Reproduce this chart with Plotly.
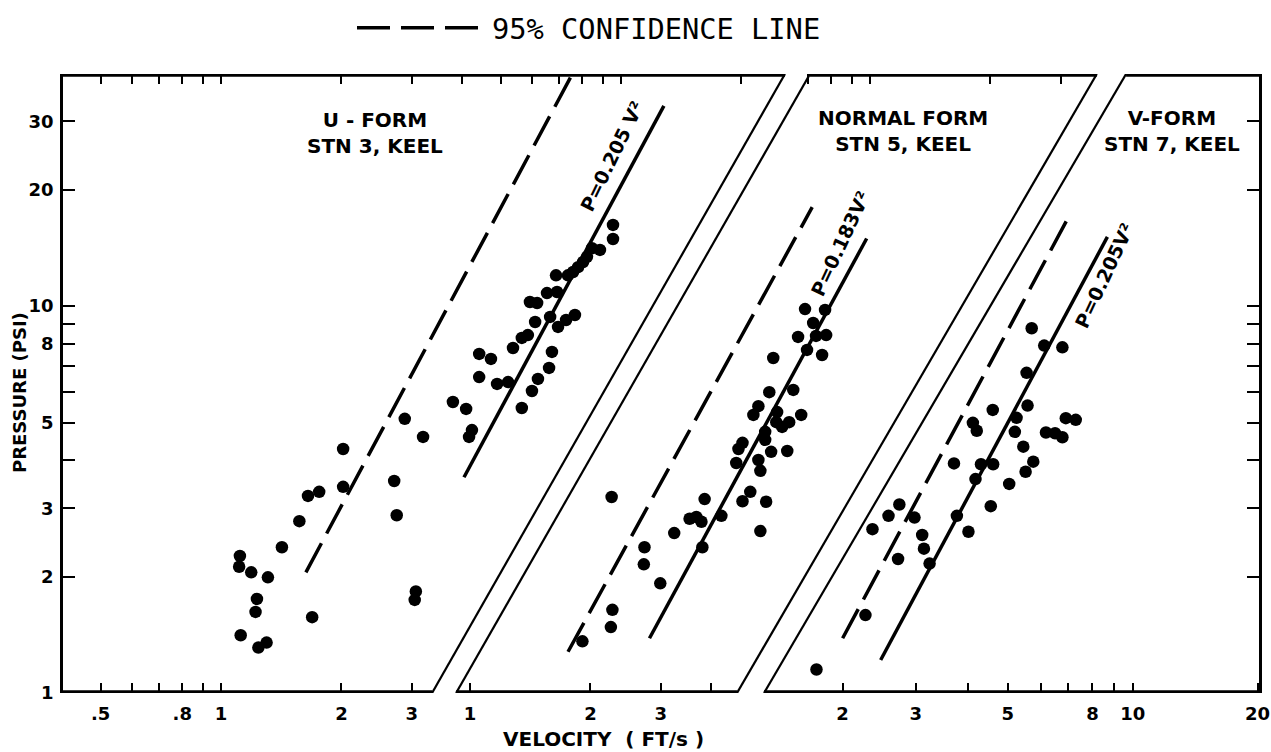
import plotly.graph_objects as go

# ---------------- data ----------------
# U-form, station 3, keel  (velocity ft/s, pressure psi)
u_velocity = [2.88, 3.20, 2.02, 2.02, 2.71, 1.76, 1.65, 2.75, 1.57, 1.42, 1.115, 1.11, 1.19, 1.31,
              1.23, 1.22, 1.69, 3.07, 3.05, 1.12, 1.30, 1.24,
              9.55, 9.55, 8.86, 8.46, 8.22, 8.04, 7.81, 7.59, 7.37, 6.88, 6.53, 6.92, 5.92, 6.17,
              7.67, 7.29, 6.65, 6.96, 6.10, 5.85, 5.65, 5.37, 6.72, 4.42, 4.73, 6.61, 4.42, 4.90,
              5.22, 6.20, 5.99, 5.65, 3.80, 4.10, 4.24, 4.17]
u_pressure = [5.11, 4.59, 4.27, 3.41, 3.53, 3.31, 3.23, 2.88, 2.78, 2.38, 2.26, 2.12, 2.05, 1.99,
              1.75, 1.62, 1.57, 1.83, 1.74, 1.41, 1.35, 1.31,
              16.2, 14.9, 13.96, 14.1, 13.4, 12.99, 12.6, 12.24, 12.0, 12.0, 10.8, 10.87, 10.24, 10.18,
              9.48, 9.20, 9.37, 8.83, 9.09, 8.41, 8.27, 7.79, 7.61, 7.52, 7.30, 6.92, 6.55, 6.29,
              6.36, 6.48, 6.03, 5.45, 5.65, 5.42, 4.78, 4.59]

# Normal form, station 5, keel
n_velocity = [6.88, 7.72, 7.21, 6.61, 7.33, 7.77, 6.96, 7.59, 5.73, 5.60, 6.43, 5.26, 5.11, 5.86,
              6.73, 5.83, 6.03, 6.28, 5.47, 5.47, 4.80, 4.69, 5.66, 6.21, 4.63, 5.26, 5.32, 5.02,
              4.80, 5.50, 3.86, 4.25, 3.54, 3.68, 3.79, 3.24, 5.32, 3.81, 2.26, 2.73, 2.72, 2.99,
              2.27, 2.25, 1.91]
n_pressure = [9.82, 9.77, 9.04, 8.32, 8.37, 8.41, 7.70, 7.47, 7.34, 5.99, 6.07, 5.51, 5.23, 5.32,
              5.23, 5.01, 4.87, 5.01, 4.73, 4.51, 4.43, 4.27, 4.20, 4.22, 3.93, 4.00, 3.75, 3.31,
              3.13, 3.12, 3.17, 2.87, 2.82, 2.85, 2.77, 2.59, 2.62, 2.38, 3.21, 2.38, 2.15, 1.92,
              1.64, 1.48, 1.36]

# V-form, station 7, keel
v_velocity = [5.71, 6.12, 6.77, 5.55, 4.60, 5.58, 5.25, 4.12, 4.21, 5.20, 5.45, 6.18, 6.50, 6.77,
              6.90, 7.29, 5.76, 5.52, 5.04, 3.71, 4.31, 4.61, 4.18, 4.55, 2.74, 2.58, 2.98, 3.77,
              2.36, 3.11, 3.14, 4.02, 2.72, 3.24, 2.27, 1.73]
v_pressure = [8.76, 7.90, 7.82, 6.72, 5.39, 5.53, 5.14, 4.99, 4.76, 4.73, 4.33, 4.71, 4.69, 4.58,
              5.13, 5.08, 3.96, 3.73, 3.47, 3.92, 3.90, 3.90, 3.57, 3.04, 3.07, 2.87, 2.84, 2.87,
              2.65, 2.56, 2.36, 2.61, 2.22, 2.16, 1.59, 1.15]

# fitted lines and 95% confidence lines (end points)
u_fit_v, u_fit_p = [4.05, 12.8], [3.61, 32.9]
u_conf_v, u_conf_p = [1.63, 7.53], [2.05, 39.5]
n_fit_v, n_fit_p = [2.81, 9.81], [1.385, 14.94]
n_conf_v, n_conf_p = [1.758, 7.17], [1.278, 18.0]
v_fit_v, v_fit_p = [2.47, 8.69], [1.217, 15.09]
v_conf_v, v_conf_p = [2.00, 6.99], [1.385, 16.9]

panel_titles = ["U - FORM<br>STN 3, KEEL", "NORMAL FORM<br>STN 5, KEEL", "V-FORM<br>STN 7, KEEL"]
fit_labels = ["P=0.205 V²", "P=0.183V²", "P=0.205V²"]
legend_label = "95% CONFIDENCE LINE"
x_title = "VELOCITY  ( FT/s )"
y_title = "PRESSURE (PSI)"

# panel outlines, velocity at [bottom-left, bottom-right, top-left, top-right]; None = plot edge
u_frame = [None, 3.37, None, 25.7]
n_frame = [0.923, 4.65, 7.08, 36.9]
v_frame = [1.293, None, 9.64, None]

# ticks
y_ticks = [1, 2, 3, 4, 5, 6, 7, 8, 9, 10, 20, 30]
y_ticklabels = ['1', '2', '3', '', '5', '', '', '8', '', '10', '20', '30']
u_bottom_ticks = [0.5, 0.6, 0.7, 0.8, 0.9, 1, 2, 3]
u_bottom_labels = ['.5', '', '', '.8', '', '1', '2', '3']
n_bottom_ticks = [1, 2, 3, 4]
n_bottom_labels = ['1', '2', '3', '']
v_bottom_ticks = [2, 3, 4, 5, 6, 7, 8, 9, 10, 20]
v_bottom_labels = ['2', '3', '', '5', '', '', '8', '', '10', '20']
u_top_ticks = [0.5, 0.6, 0.7, 0.8, 0.9, 1, 2, 3, 4, 5, 6, 7, 8, 9, 10, 20]
n_top_ticks = [7, 8, 9, 10, 20, 30]

# ---------------- layout geometry ----------------
W, H = 1271, 752
PL, PR, PT, PB = 63, 1259, 74, 693
CAL = {1: (221.0, 400.0), 2: (470.0, 400.0), 3: (717.7, 415.0)}  # (pixel of v=1, px per decade)
Y_DEC = 387.0


def xr(k):
    x1, d = CAL[k]
    return [(PL - x1) / d, (PR - x1) / d]


yr = [0.0, (PB - PT) / Y_DEC]
Y_TOP = 10 ** yr[1]


def paper_x(px):
    return (px - PL) / (PR - PL)


def paper_y(py):
    return (PB - py) / (PB - PT)


FONT = "DejaVu Sans"
TICKFONT = dict(family=FONT, size=18, color="black", weight="bold")
INK = "black"

fig = go.Figure()

panels = [
    ("x", u_velocity, u_pressure, u_fit_v, u_fit_p, u_conf_v, u_conf_p, True),
    ("x2", n_velocity, n_pressure, n_fit_v, n_fit_p, n_conf_v, n_conf_p, False),
    ("x3", v_velocity, v_pressure, v_fit_v, v_fit_p, v_conf_v, v_conf_p, False),
]
for xa, vv, pp, fv, fp, cv, cp, show in panels:
    fig.add_trace(go.Scatter(x=cv, y=cp, mode="lines", xaxis=xa, yaxis="y",
                             line=dict(color=INK, width=3.5, dash="33px,11px"),
                             name=legend_label, legendgroup="conf", showlegend=show,
                             hoverinfo="skip"))
    fig.add_trace(go.Scatter(x=fv, y=fp, mode="lines", xaxis=xa, yaxis="y",
                             line=dict(color=INK, width=3.5), showlegend=False, hoverinfo="skip"))
    fig.add_trace(go.Scatter(x=vv, y=pp, mode="markers", xaxis=xa, yaxis="y",
                             marker=dict(color=INK, size=12.5, line=dict(width=0)),
                             showlegend=False))

# carriers for the tick-only axes
fig.add_trace(go.Scatter(x=[None], y=[None], xaxis="x4", yaxis="y", showlegend=False))
fig.add_trace(go.Scatter(x=[None], y=[None], xaxis="x5", yaxis="y", showlegend=False))
fig.add_trace(go.Scatter(x=[None], y=[None], xaxis="x", yaxis="y2", showlegend=False))

# panel outlines
shapes = []
for xa, frame, k in (("x", u_frame, 1), ("x2", n_frame, 2), ("x3", v_frame, 3)):
    lo, hi = 10 ** xr(k)[0], 10 ** xr(k)[1]
    bl = frame[0] if frame[0] is not None else lo
    br = frame[1] if frame[1] is not None else hi
    tl = frame[2] if frame[2] is not None else lo
    tr = frame[3] if frame[3] is not None else hi
    edge = dict(type="line", xref=xa, yref="y", layer="above")
    shapes.append(dict(edge, x0=bl, x1=br, y0=1, y1=1, line=dict(color=INK, width=5.5)))
    shapes.append(dict(edge, x0=tl, x1=tr, y0=Y_TOP, y1=Y_TOP, line=dict(color=INK, width=5.5)))
    if frame[0] is not None:
        shapes.append(dict(edge, x0=bl, x1=tl, y0=1, y1=Y_TOP, line=dict(color=INK, width=2.2)))
    if frame[1] is not None:
        shapes.append(dict(edge, x0=br, x1=tr, y0=1, y1=Y_TOP, line=dict(color=INK, width=2.2)))

ann = dict(xref="paper", yref="paper", xanchor="center", yanchor="middle", showarrow=False)
annotations = []
for (px, py), txt in zip([(375, 133), (903, 131), (1172, 131)], panel_titles):
    annotations.append(dict(ann, x=paper_x(px), y=paper_y(py), text=txt,
                            font=dict(family=FONT, size=20, color=INK, weight="bold")))
for (px, py, ang), txt in zip([(612, 156, -64), (840, 244, -65), (1104, 276, -65)], fit_labels):
    annotations.append(dict(ann, x=paper_x(px), y=paper_y(py), text=txt, textangle=ang,
                            font=dict(family=FONT, size=19, color=INK, weight="bold")))
annotations.append(dict(ann, x=paper_x(603), y=paper_y(739), text=x_title,
                        font=dict(family=FONT, size=20, color=INK, weight="bold")))
annotations.append(dict(ann, x=paper_x(20), y=paper_y(393), text=y_title, textangle=-90,
                        font=dict(family=FONT, size=18, color=INK, weight="bold")))

common_x = dict(type="log", showgrid=False, zeroline=False, showline=False, ticks="inside",
                ticklen=10, tickwidth=2, tickcolor=INK, tickfont=TICKFONT, ticklabelstandoff=8,
                anchor="y")
common_y = dict(type="log", range=yr, showgrid=False, zeroline=False, showline=True, linewidth=2.5,
                linecolor=INK, ticks="inside", ticklen=12, tickwidth=2, tickcolor=INK,
                tickvals=y_ticks, ticktext=y_ticklabels, tickfont=TICKFONT, ticklabelstandoff=3,
                anchor="x")

fig.update_layout(
    width=W, height=H,
    margin=dict(l=PL, r=W - PR, t=PT, b=H - PB, autoexpand=False),
    paper_bgcolor="white", plot_bgcolor="white",
    xaxis=dict(common_x, range=xr(1), tickvals=u_bottom_ticks, ticktext=u_bottom_labels),
    xaxis2=dict(common_x, range=xr(2), overlaying="x", tickvals=n_bottom_ticks, ticktext=n_bottom_labels),
    xaxis3=dict(common_x, range=xr(3), overlaying="x", tickvals=v_bottom_ticks, ticktext=v_bottom_labels),
    xaxis4=dict(common_x, range=xr(1), overlaying="x", side="top", tickvals=u_top_ticks,
                showticklabels=False),
    xaxis5=dict(common_x, range=xr(2), overlaying="x", side="top", tickvals=n_top_ticks,
                showticklabels=False),
    yaxis=dict(common_y),
    yaxis2=dict(common_y, overlaying="y", side="right", showticklabels=False),
    shapes=shapes,
    annotations=annotations,
    showlegend=True,
    legend=dict(x=paper_x(352), y=paper_y(28), xanchor="left", yanchor="middle",
                font=dict(family="DejaVu Sans Mono", size=28.7, color=INK),
                itemwidth=130, bgcolor="rgba(0,0,0,0)", borderwidth=0),
    hovermode="closest",
)

fig.write_html("out.html", config={"displayModeBar": False},
               post_script="document.body.style.margin='0px';document.body.style.overflow='hidden';")
